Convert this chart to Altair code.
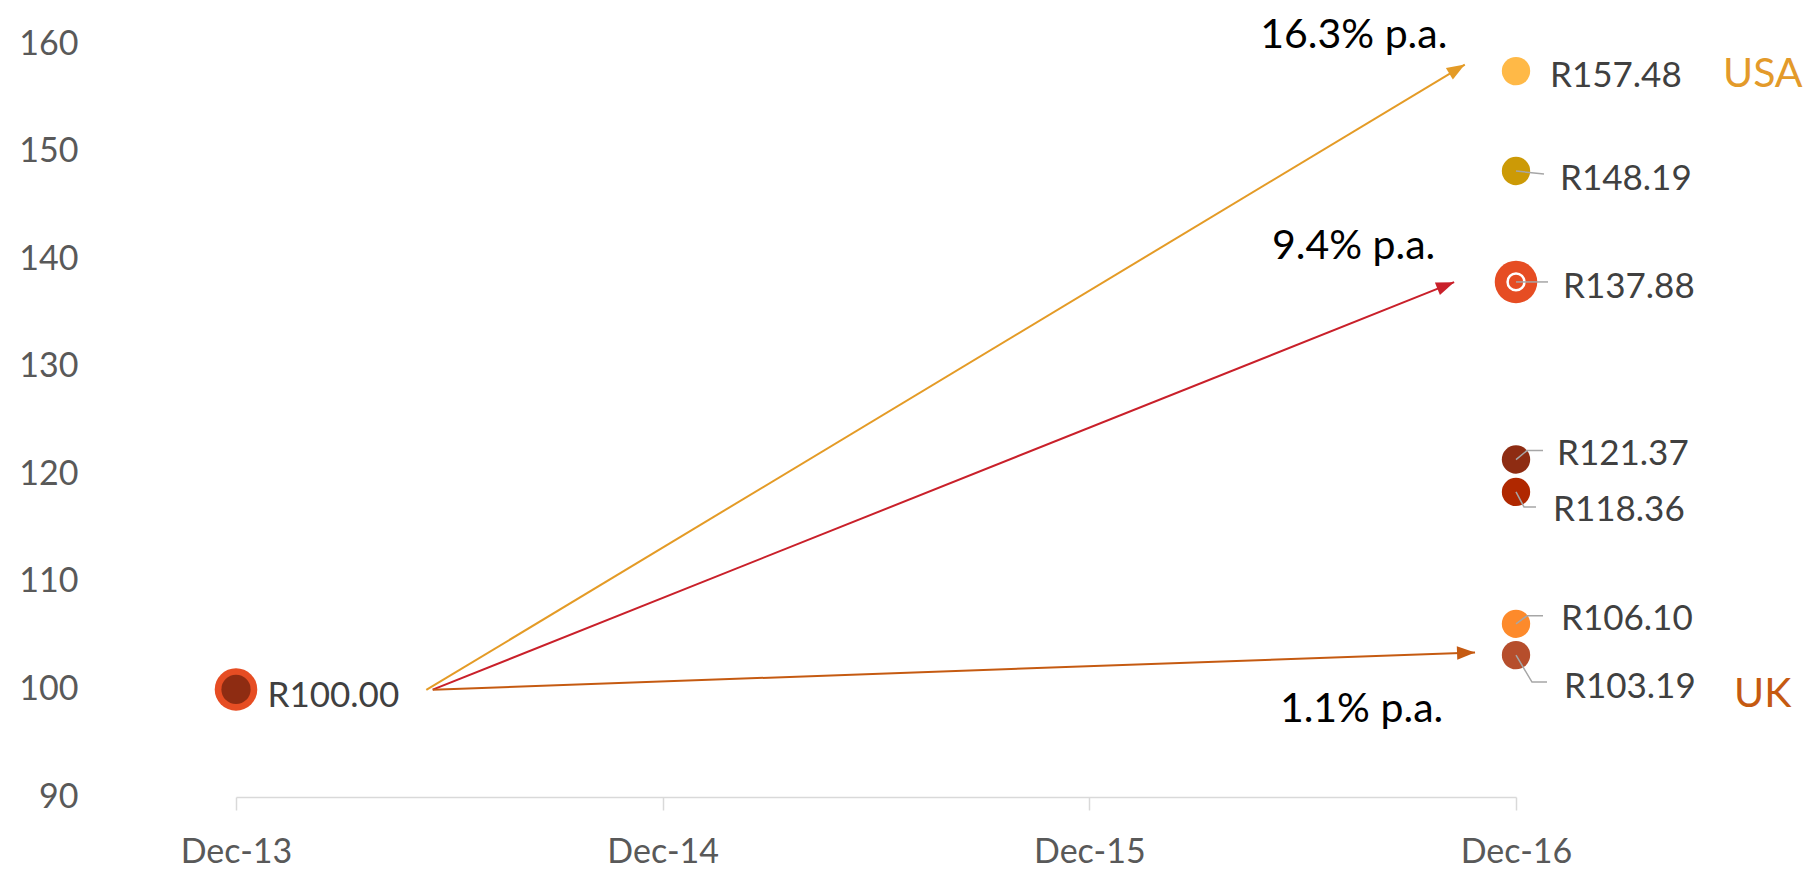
import math
import altair as alt
import pandas as pd

# ---------------- data ----------------
periods = ["Dec-13", "Dec-14", "Dec-15", "Dec-16"]
start_value = 100.00
end_values = [157.48, 148.19, 137.88, 121.37, 118.36, 106.10, 103.19]
end_colors = ["#FFB947", "#CC9A06", "#E64D23", "#8E2C12", "#B02800", "#FD8A2B", "#B64E2C"]
highlight_value = 137.88

growth_labels = ["16.3% p.a.", "9.4% p.a.", "1.1% p.a."]
arrow_colors = ["#E49B26", "#C9202A", "#C55A11"]
arrow_x0 = [0.446, 0.461, 0.461]
arrow_y0 = [99.95, 99.98, 99.98]
arrow_x1 = [2.880, 2.855, 2.904]
arrow_y1 = [158.09, 137.86, 103.44]

region_labels = ["USA", "UK"]
region_colors = ["#E39A2A", "#C55A11"]
region_anchor = [157.48, 103.19]

# ---------------- layout ----------------
W, H = 1280, 753
PAD_L, PAD_T = 228, 36
X_MAX = 3
Y_MIN, Y_MAX = 90, 160
PX_X = W / X_MAX
PX_Y = H / (Y_MAX - Y_MIN)
FONT = "Lato"

# label offsets (px) from each end point: (dx, dy)
label_offsets = [(34, 15.7), (44, 19.2), (47, 16), (41, 5.2), (37, 28.6), (45, 6.1), (48, 43.1)]
start_label_offset = (31.5, 17.2)
# leader polylines (px, relative to point centre)
leaders = {
    1: [(0, 0), (28, 3)],
    2: [(0, 0), (32, 0)],
    3: [(0, 0), (11, -9), (27, -9)],
    4: [(0, 0), (8, 15), (20, 15)],
    5: [(0, 0), (11, -8), (27, -8)],
    6: [(0, 0), (16, 27), (31, 27)],
}
growth_offsets = [(-111, -17.0), (-100.5, -23.2), (-113.5, 69.2)]
region_offsets = [(207, 15.7), (218, 51.5)]

xs = alt.Scale(domain=[0, X_MAX], nice=False, zero=False)
ys = alt.Scale(domain=[Y_MIN, Y_MAX], nice=False, zero=False)

# ---------------- tables ----------------
arrows = pd.DataFrame({
    "x": arrow_x0, "y": arrow_y0, "x2": arrow_x1, "y2": arrow_y1, "color": arrow_colors,
})
arrows["angle"] = [
    90 - math.degrees(math.atan2((b1 - b0) * PX_Y, (a1 - a0) * PX_X))
    for a0, b0, a1, b1 in zip(arrow_x0, arrow_y0, arrow_x1, arrow_y1)
]

ends = pd.DataFrame({
    "x": [X_MAX] * len(end_values),
    "y": end_values,
    "color": end_colors,
    "size": [1810 if v == highlight_value else 804 for v in end_values],
})

starts = pd.DataFrame({
    "x": [0, 0], "y": [start_value, start_value],
    "color": ["#E64D23", "#8E2C12"], "size": [1810, 855],
})

ring = pd.DataFrame({"x": [X_MAX], "y": [highlight_value]})

lead_rows = []
for i, pts in leaders.items():
    v = end_values[i]
    for j, (px, py) in enumerate(pts):
        lead_rows.append({"id": i, "order": j, "x": X_MAX + px / PX_X, "y": v - py / PX_Y})
lead_df = pd.DataFrame(lead_rows)

val_labels = pd.DataFrame({
    "x": [X_MAX + dx / PX_X for dx, dy in label_offsets] + [0 + start_label_offset[0] / PX_X],
    "y": [v - dy / PX_Y for v, (dx, dy) in zip(end_values, label_offsets)]
         + [start_value - start_label_offset[1] / PX_Y],
    "text": [f"R{v:.2f}" for v in end_values] + [f"R{start_value:.2f}"],
})

growth_df = pd.DataFrame({
    "x": [a + dx / PX_X for a, (dx, dy) in zip(arrow_x1, growth_offsets)],
    "y": [b - dy / PX_Y for b, (dx, dy) in zip(arrow_y1, growth_offsets)],
    "text": growth_labels,
})

region_df = pd.DataFrame({
    "x": [X_MAX + dx / PX_X for dx, dy in region_offsets],
    "y": [v - dy / PX_Y for v, (dx, dy) in zip(region_anchor, region_offsets)],
    "text": region_labels,
    "color": region_colors,
})

# ---------------- layers ----------------
label_expr = "[" + ",".join(f"'{p}'" for p in periods) + "][datum.value]"

axis_base = alt.Chart(pd.DataFrame({"x": [0, X_MAX], "y": [Y_MIN, Y_MAX]})).mark_point(opacity=0).encode(
    x=alt.X("x:Q", scale=xs, title=None,
            axis=alt.Axis(values=[0, 1, 2, 3], labelExpr=label_expr, grid=False,
                          domainColor="#D9D9D9", domainWidth=1.5, tickColor="#D9D9D9",
                          tickWidth=1.5, tickSize=13, labelPadding=25, labelFont=FONT,
                          labelFontSize=34, labelColor="#595959", labelFlush=False,
                          labelOverlap=False, labelBound=False, labelAngle=0)),
    y=alt.Y("y:Q", scale=ys, title=None,
            axis=alt.Axis(values=list(range(90, 161, 10)), grid=False, domain=False,
                          ticks=False, tickSize=0, labelPadding=158, labelFont=FONT,
                          labelFontSize=34, labelColor="#595959", labelOverlap=False,
                          labelBound=False)),
)

arrow_lines = alt.Chart(arrows).mark_rule(strokeWidth=2).encode(
    x=alt.X("x:Q", scale=xs), y=alt.Y("y:Q", scale=ys),
    x2="x2:Q", y2="y2:Q",
    color=alt.Color("color:N", scale=None),
)

arrow_heads = alt.Chart(arrows).mark_point(
    shape="M0,0 L-0.75,2 L0.75,2 Z", filled=True, opacity=1, size=324, strokeWidth=0
).encode(
    x=alt.X("x2:Q", scale=xs), y=alt.Y("y2:Q", scale=ys),
    color=alt.Color("color:N", scale=None),
    angle=alt.Angle("angle:Q", scale=None),
)

start_pts = alt.Chart(starts).mark_circle(opacity=1).encode(
    x=alt.X("x:Q", scale=xs), y=alt.Y("y:Q", scale=ys),
    color=alt.Color("color:N", scale=None),
    size=alt.Size("size:Q", scale=None),
    order=alt.Order("size:Q", sort="descending"),
)

end_pts = alt.Chart(ends).mark_circle(opacity=1).encode(
    x=alt.X("x:Q", scale=xs), y=alt.Y("y:Q", scale=ys),
    color=alt.Color("color:N", scale=None),
    size=alt.Size("size:Q", scale=None),
)

ring_pt = alt.Chart(ring).mark_point(filled=False, stroke="white", strokeWidth=2.5, size=284, opacity=1).encode(
    x=alt.X("x:Q", scale=xs), y=alt.Y("y:Q", scale=ys),
)

leader_lines = alt.Chart(lead_df).mark_line(color="#A6A6A6", strokeWidth=1.5).encode(
    x=alt.X("x:Q", scale=xs), y=alt.Y("y:Q", scale=ys),
    detail="id:N", order="order:Q",
)

value_text = alt.Chart(val_labels).mark_text(
    align="left", baseline="alphabetic", font=FONT, fontSize=35, color="#404040"
).encode(x=alt.X("x:Q", scale=xs), y=alt.Y("y:Q", scale=ys), text="text:N")

growth_text = alt.Chart(growth_df).mark_text(
    align="center", baseline="alphabetic", font=FONT, fontSize=41, color="#000000"
).encode(x=alt.X("x:Q", scale=xs), y=alt.Y("y:Q", scale=ys), text="text:N")

region_text = alt.Chart(region_df).mark_text(
    align="left", baseline="alphabetic", font=FONT, fontSize=41
).encode(x=alt.X("x:Q", scale=xs), y=alt.Y("y:Q", scale=ys), text="text:N",
         color=alt.Color("color:N", scale=None))

chart = alt.layer(
    axis_base, arrow_lines, arrow_heads, start_pts, end_pts, ring_pt, leader_lines,
    value_text, growth_text, region_text,
).properties(
    width=W, height=H,
    autosize=alt.AutoSizeParams(type="none"),
    padding={"left": PAD_L, "top": PAD_T, "right": 290, "bottom": 74},
    background="white",
).configure_view(strokeWidth=0)

chart.save("out.html", embed_options={"renderer": "svg", "actions": False})
